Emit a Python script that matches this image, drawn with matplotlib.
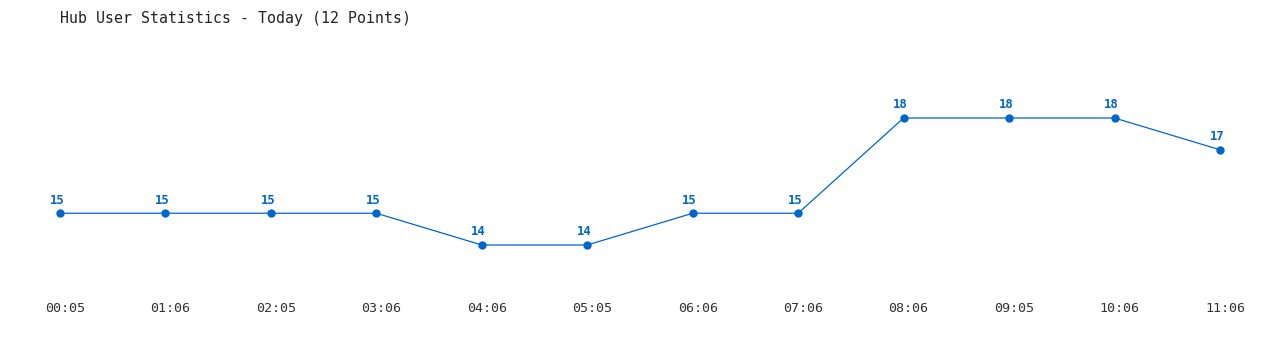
import matplotlib
matplotlib.use("Agg")
from matplotlib import pyplot as plt
from matplotlib.transforms import ScaledTranslation

times = ["00:05", "01:06", "02:05", "03:06", "04:06", "05:05",
         "06:06", "07:06", "08:06", "09:05", "10:06", "11:06"]
users = [15, 15, 15, 15, 14, 14, 15, 15, 18, 18, 18, 17]

blue = "#0066cc"
mono = "DejaVu Sans Mono"

fig = plt.figure(figsize=(12.8, 3.5), dpi=100)
# axes spans full width, bottom at 290px
ax = fig.add_axes([0, 60 / 350, 1, 290 / 350])
x = list(range(len(users)))
ax.plot(x, users, color=blue, lw=0.9, marker="o", markersize=5, zorder=3)
for i, v in zip(x, users):
    ax.annotate(str(v), (i, v), xytext=(-2.2, 9.5), textcoords="offset points",
                ha="center", va="center", color=blue, fontsize=8.8,
                fontweight="bold", family=mono)

ax.set_xlim(-60 / 105.45, (1280 - 60) / 105.45)
ax.set_ylim(14 - 45 / 31.75, 18 + 118 / 31.75)
ax.set_xticks(x)
ax.set_xticklabels(times, family=mono, fontsize=9.6, color="#333333")
ax.tick_params(axis="x", length=0, pad=8.5)
shift = ScaledTranslation(5 / 100, 0, fig.dpi_scale_trans)
for lbl in ax.get_xticklabels():
    lbl.set_transform(lbl.get_transform() + shift)
ax.set_yticks([])
for s in ax.spines.values():
    s.set_visible(False)

fig.text(60 / 1280, 1 - 18 / 350, "Hub User Statistics - Today (12 Points)",
         family=mono, fontsize=10.7, color="#222222", va="center", ha="left")

fig.savefig("out.png", dpi=100)
